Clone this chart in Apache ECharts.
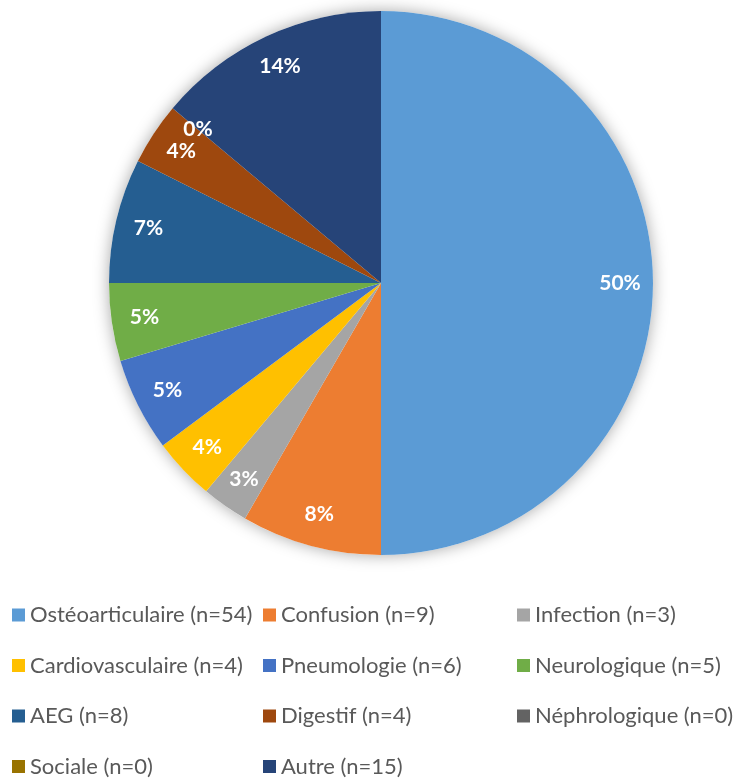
<!DOCTYPE html>
<html>
<head>
<meta charset="utf-8">
<script src="https://cdn.jsdelivr.net/npm/echarts@6/dist/echarts.min.js"></script>
<style>
  html, body { margin: 0; padding: 0; background: #fff; }
  #chart { width: 742px; height: 778px; }
</style>
</head>
<body>
<div id="chart"></div>
<script>
const categories = ['Ostéoarticulaire', 'Confusion', 'Infection', 'Cardiovasculaire', 'Pneumologie',
  'Neurologique', 'AEG', 'Digestif', 'Néphrologique', 'Sociale', 'Autre']
const counts = [54, 9, 3, 4, 6, 5, 8, 4, 0, 0, 15]
const colors = ['#5B9BD5', '#ED7D31', '#A5A5A5', '#FFC000', '#4472C4',
  '#70AD47', '#255E91', '#9E480E', '#636363', '#997300', '#264478']

const total = counts.reduce((a, b) => a + b, 0)
const pieData = categories.map((name, i) => ({ name: name, value: counts[i], itemStyle: { color: colors[i] } }))

const chart = echarts.init(document.getElementById('chart'))

const legendFont = { fontFamily: 'Lato', fontSize: 22, color: '#595959', lineHeight: 22 }

chart.setOption({
  animation: false,
  legend: [0, 1, 2].map(function(c) {
    return {
      orient: 'vertical',
      left: [12, 263, 517][c],
      top: 604,
      padding: 0,
      itemWidth: 13,
      itemHeight: 13,
      itemGap: 28.5,
      icon: 'rect',
      selectedMode: false,
      textStyle: legendFont,
      formatter: function(name) {
        return name + ' (n=' + counts[categories.indexOf(name)] + ')'
      },
      data: categories.filter((_, i) => i % 3 === c).map(function(name) {
        return { name: name, itemStyle: { color: colors[categories.indexOf(name)] } }
      })
    }
  }),
  series: [
    {
      // soft shadow behind the pie
      type: 'pie',
      center: [381, 283],
      radius: 272,
      silent: true,
      label: { show: false },
      itemStyle: { color: '#fff', shadowBlur: 16, shadowColor: 'rgba(0,0,0,0.35)' },
      data: [{ name: '', value: total }]
    },
    {
      type: 'pie',
      center: [381, 283],
      radius: 272,
      startAngle: 90,
      clockwise: true,
      label: { show: false },
      labelLine: { show: false },
      itemStyle: { borderWidth: 0 },
      data: pieData
    },
    {
      // transparent ring, only used to place the labels near the rim
      type: 'pie',
      center: [381, 283],
      radius: [200, 272],
      startAngle: 90,
      clockwise: true,
      silent: true,
      percentPrecision: 0,
      legendHoverLink: false,
      itemStyle: { color: 'transparent' },
      labelLine: { show: false },
      label: {
        show: true,
        position: 'inside',
        formatter: '{d}%',
        color: '#fff',
        fontFamily: 'Lato',
        fontWeight: 'bold',
        fontSize: 21
      },
      data: categories.map((name, i) => ({ name: name, value: counts[i] }))
    }
  ]
})
</script>
</body>
</html>
